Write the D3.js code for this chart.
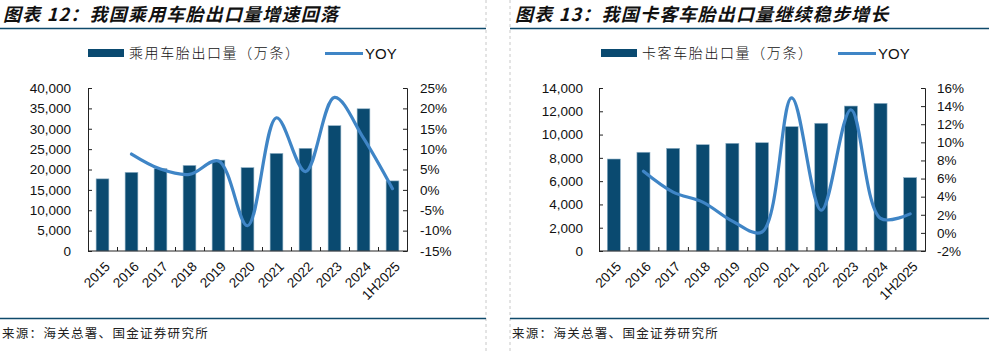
<!DOCTYPE html>
<html>
<head>
<meta charset="utf-8">
<script src="https://cdn.jsdelivr.net/npm/d3@7"></script>
<style>
  body { margin: 0; background: #fff; }
  svg { display: block; }
  .tick text { font-family: "Liberation Sans", Arial, sans-serif; }
</style>
</head>
<body>
<script>
// categories
const years = ["2015", "2016", "2017", "2018", "2019", "2020", "2021", "2022", "2023", "2024", "1H2025"];

// chart 12: passenger car tyres
const carExports = [17700, 19300, 20200, 21000, 22300, 20450, 23950, 25200, 30750, 34900, 17200];
const carYoy = [null, 8.8, 5.1, 3.8, 7.1, -8.8, 17.7, 4.5, 22.7, 12.7, 0.3];
const carLeftTicks = [0, 5000, 10000, 15000, 20000, 25000, 30000, 35000, 40000];
const carRightTicks = [-15, -10, -5, 0, 5, 10, 15, 20, 25];

// chart 13: truck & bus tyres
const truckExports = [7900, 8480, 8820, 9130, 9250, 9300, 10680, 10970, 12450, 12680, 6300];
const truckYoy = [null, 6.8, 4.5, 3.4, 1.3, 0.1, 14.9, 2.5, 13.6, 1.6, 2.1];
const truckLeftTicks = [0, 2000, 4000, 6000, 8000, 10000, 12000, 14000];
const truckRightTicks = [-2, 0, 2, 4, 6, 8, 10, 12, 14, 16];

const WIDTH = 989;
const HEIGHT = 352;
const BAR_COLOR = "#0a4a70";
const LINE_COLOR = "#3f85c6";
const RULE_COLOR = "#0f4a6b";
const CJK = '"Noto Sans CJK SC", "Noto Sans", sans-serif';

const svg = d3.select("body")
  .append("svg")
  .attr("width", WIDTH)
  .attr("height", HEIGHT);

svg.append("rect")
  .attr("width", WIDTH)
  .attr("height", HEIGHT)
  .attr("fill", "#fff");

// dashed separators between the two panels
[486, 510].forEach(x => {
  svg.append("line")
    .attr("x1", x).attr("x2", x)
    .attr("y1", 0).attr("y2", HEIGHT)
    .attr("stroke", "#c8c8c8")
    .attr("stroke-dasharray", "3,3");
});

function drawPanel(cfg) {
  const g = svg.append("g");

  // title + rules
  g.append("text")
    .attr("x", cfg.titleX)
    .attr("y", 21)
    .attr("font-family", CJK)
    .attr("font-size", 18)
    .attr("letter-spacing", 1.2)
    .attr("font-weight", 700)
    .attr("font-style", "italic")
    .attr("fill", "#111")
    .text(cfg.title);
  g.append("line")
    .attr("x1", cfg.ruleX0).attr("x2", cfg.ruleX1)
    .attr("y1", 28.5).attr("y2", 28.5)
    .attr("stroke", RULE_COLOR).attr("stroke-width", 1.5);
  g.append("line")
    .attr("x1", cfg.ruleX0).attr("x2", cfg.ruleX1)
    .attr("y1", 318.5).attr("y2", 318.5)
    .attr("stroke", RULE_COLOR).attr("stroke-width", 1.5);
  g.append("text")
    .attr("x", cfg.ruleX0 + 2)
    .attr("y", 338)
    .attr("font-family", CJK)
    .attr("font-size", 12.5)
    .attr("letter-spacing", 1.3)
    .attr("fill", "#222")
    .text("来源：海关总署、国金证券研究所");

  const top = 88, bottom = 251;

  const xScale = d3.scaleBand()
    .domain(years)
    .range([cfg.left, cfg.right])
    .paddingInner(0.56)
    .paddingOuter(0.28);

  const yLeft = d3.scaleLinear()
    .domain(d3.extent(cfg.leftTicks))
    .range([bottom, top]);

  const yRight = d3.scaleLinear()
    .domain(d3.extent(cfg.rightTicks))
    .range([bottom, top]);

  // bars
  g.selectAll("rect.bar")
    .data(cfg.bars)
    .enter()
    .append("rect")
    .attr("class", "bar")
    .attr("x", (d, i) => xScale(years[i]))
    .attr("y", d => yLeft(d))
    .attr("width", xScale.bandwidth())
    .attr("height", d => bottom - yLeft(d))
    .attr("fill", BAR_COLOR)
    .attr("stroke", "#8fb0c6")
    .attr("stroke-width", 0.6);

  // axes
  const leftAxis = d3.axisLeft(yLeft)
    .tickValues(cfg.leftTicks)
    .tickFormat(d3.format(","))
    .tickSizeInner(-4)
    .tickSizeOuter(-4)
    .tickPadding(cfg.leftPad);
  const gl = g.append("g")
    .attr("transform", "translate(" + cfg.left + ",0)")
    .call(leftAxis);

  const rightAxis = d3.axisRight(yRight)
    .tickValues(cfg.rightTicks)
    .tickFormat(d => d + "%")
    .tickSizeInner(-4)
    .tickSizeOuter(-4)
    .tickPadding(cfg.rightPad);
  const gr = g.append("g")
    .attr("transform", "translate(" + cfg.right + ",0)")
    .call(rightAxis);

  [gl, gr].forEach(a => {
    a.selectAll("text").attr("font-size", 13.5).attr("fill", "#111");
    a.selectAll("line, path").attr("stroke", "#222");
  });

  // x axis: baseline, boundary ticks, rotated labels
  const gx = g.append("g")
    .attr("transform", "translate(0," + bottom + ")");
  gx.append("line")
    .attr("x1", cfg.left).attr("x2", cfg.right)
    .attr("stroke", "#222");
  const half = xScale.step() * xScale.paddingInner() / 2;
  gx.selectAll("line.tk")
    .data(years.slice(1))
    .enter()
    .append("line")
    .attr("class", "tk")
    .attr("x1", d => xScale(d) - half + 0.5)
    .attr("x2", d => xScale(d) - half + 0.5)
    .attr("y1", 0).attr("y2", -4)
    .attr("stroke", "#222");
  gx.selectAll("text")
    .data(years)
    .enter()
    .append("text")
    .attr("transform", d => "translate(" + (xScale(d) + xScale.bandwidth() / 2 + 5) + ",13) rotate(-45)")
    .attr("text-anchor", "end")
    .attr("dy", "0.35em")
    .attr("font-family", '"Liberation Sans", Arial, sans-serif')
    .attr("font-size", 13.5)
    .attr("fill", "#111")
    .text(d => d);

  // yoy line
  const pts = cfg.yoy
    .map((v, i) => [years[i], v])
    .filter(d => d[1] !== null);
  const line = d3.line()
    .x(d => xScale(d[0]) + xScale.bandwidth() / 2)
    .y(d => yRight(d[1]))
    .curve(d3.curveCatmullRom.alpha(0.5));
  g.append("path")
    .datum(pts)
    .attr("d", line)
    .attr("fill", "none")
    .attr("stroke", LINE_COLOR)
    .attr("stroke-width", 3.2)
    .attr("stroke-linecap", "round");

  // legend
  g.append("rect")
    .attr("x", cfg.legendX).attr("y", 49)
    .attr("width", 36).attr("height", 8)
    .attr("fill", BAR_COLOR);
  g.append("text")
    .attr("x", cfg.legendX + 41).attr("y", 58)
    .attr("font-family", CJK)
    .attr("font-size", 14)
    .attr("font-weight", 300)
    .attr("letter-spacing", 1.6)
    .attr("fill", "#111")
    .text(cfg.barName);
  g.append("line")
    .attr("x1", cfg.legendX + 237).attr("x2", cfg.legendX + 275)
    .attr("y1", 53.5).attr("y2", 53.5)
    .attr("stroke", LINE_COLOR).attr("stroke-width", 3);
  g.append("text")
    .attr("x", cfg.legendX + 277).attr("y", 59)
    .attr("font-family", '"Liberation Sans", Arial, sans-serif')
    .attr("font-size", 15)
    .attr("fill", "#111")
    .text("YOY");
}

drawPanel({
  title: "图表 12：我国乘用车胎出口量增速回落",
  titleX: 3, ruleX0: 0, ruleX1: 486,
  left: 88, right: 407, leftPad: 17, rightPad: 13,
  bars: carExports, yoy: carYoy,
  leftTicks: carLeftTicks, rightTicks: carRightTicks,
  legendX: 88, barName: "乘用车胎出口量（万条）"
});

drawPanel({
  title: "图表 13：我国卡客车胎出口量继续稳步增长",
  titleX: 515, ruleX0: 510, ruleX1: 989,
  left: 599, right: 925, leftPad: 16, rightPad: 12,
  bars: truckExports, yoy: truckYoy,
  leftTicks: truckLeftTicks, rightTicks: truckRightTicks,
  legendX: 601, barName: "卡客车胎出口量（万条）"
});
</script>
</body>
</html>
